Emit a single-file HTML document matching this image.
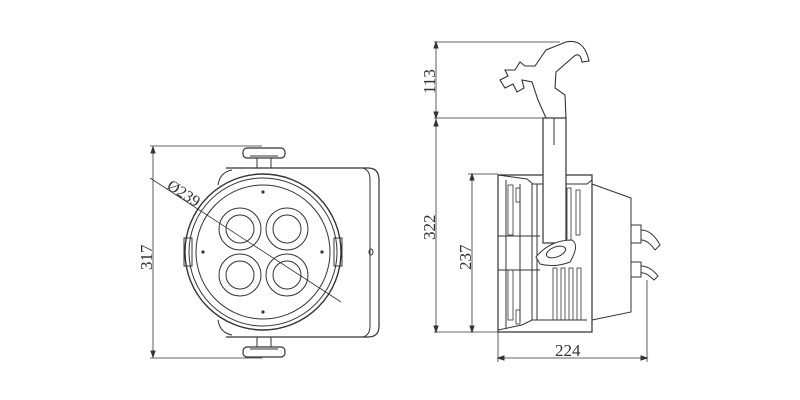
<!DOCTYPE html>
<html><head><style>body{margin:0;background:#fff}svg{display:block}</style></head><body>
<svg width="800" height="400" viewBox="0 0 800 400" xmlns="http://www.w3.org/2000/svg" font-family="Liberation Serif, serif" fill="none" stroke="#333" stroke-width="1">
<!-- LEFT VIEW -->
<line x1="150" y1="146" x2="262" y2="146" stroke-width="0.8"/>
<line x1="150" y1="358" x2="262" y2="358" stroke-width="0.8"/>
<line x1="153" y1="147" x2="153" y2="357" stroke-width="0.8"/>
<polygon points="153,147 151,153 155,153" fill="#333"/>
<polygon points="153,357 151,351 155,351" fill="#333"/>
<text x="0" y="0" transform="translate(152,270) rotate(-90)" font-size="17" fill="#333" stroke="none">317</text>
<!-- bracket -->
<path d="M226,168 L368,168 Q379,168 379,180 L379,326 Q379,337 368,337 L226,337" stroke-width="1.2"/>
<path d="M363,168 Q370,170 370,180 L370,326 Q370,335 363,337"/>
<ellipse cx="371" cy="252" rx="2" ry="3"/>
<path d="M218,185 Q220,172 232,170"/><path d="M218,320 Q220,333 232,335"/>
<!-- knobs -->
<rect x="243" y="148" width="42" height="10" rx="4" stroke-width="1.2"/>
<line x1="250" y1="156" x2="278" y2="156"/>
<rect x="257" y="158" width="14" height="10"/>
<rect x="243" y="347" width="42" height="10" rx="4" stroke-width="1.2"/>
<line x1="250" y1="349" x2="278" y2="349"/>
<rect x="257" y="337" width="14" height="10"/>
<!-- circle -->
<circle cx="263" cy="252" r="78" fill="#fff" stroke-width="1.4"/>
<circle cx="263" cy="252" r="74"/>
<circle cx="263" cy="252" r="67"/>
<rect x="184" y="238" width="8" height="28"/><rect x="334" y="238" width="8" height="28"/>
<g fill="#333" stroke="none"><circle cx="263" cy="192" r="1.6"/><circle cx="263" cy="312" r="1.6"/><circle cx="203" cy="252" r="1.6"/><circle cx="322" cy="252" r="1.6"/></g>
<circle cx="240" cy="229" r="21"/><circle cx="240" cy="229" r="14"/>
<circle cx="287" cy="229" r="21"/><circle cx="287" cy="229" r="14"/>
<circle cx="240" cy="275" r="21"/><circle cx="240" cy="275" r="14"/>
<circle cx="287" cy="275" r="21"/><circle cx="287" cy="275" r="14"/>
<line x1="150" y1="178" x2="341" y2="302" stroke-width="0.8"/>
<text transform="translate(166,188) rotate(33)" font-size="16" fill="#333" stroke="none">Ø239</text>
<!-- RIGHT VIEW -->
<line x1="434" y1="42" x2="560" y2="42" stroke-width="0.8"/>
<line x1="434" y1="118" x2="550" y2="118" stroke-width="0.8"/>
<line x1="434" y1="332" x2="500" y2="332" stroke-width="0.8"/>
<line x1="436" y1="42" x2="436" y2="332" stroke-width="0.8"/>
<polygon points="436,42 434,48 438,48" fill="#333"/><polygon points="436,118 434,112 438,112" fill="#333"/>
<polygon points="436,120 434,126 438,126" fill="#333"/><polygon points="436,332 434,326 438,326" fill="#333"/>
<text transform="translate(435,94) rotate(-90)" font-size="17" fill="#333" stroke="none">113</text>
<text transform="translate(435,240) rotate(-90)" font-size="17" fill="#333" stroke="none">322</text>
<line x1="468" y1="174" x2="498" y2="174" stroke-width="0.8"/>
<line x1="472" y1="174" x2="472" y2="332" stroke-width="0.8"/>
<polygon points="472,174 470,180 474,180" fill="#333"/><polygon points="472,332 470,326 474,326" fill="#333"/>
<text transform="translate(471,270) rotate(-90)" font-size="17" fill="#333" stroke="none">237</text>
<line x1="498" y1="332" x2="498" y2="362" stroke-width="0.8"/>
<line x1="647" y1="280" x2="647" y2="362" stroke-width="0.8"/>
<line x1="498" y1="358" x2="647" y2="358" stroke-width="0.8"/>
<polygon points="498,358 504,356 504,360" fill="#333"/><polygon points="647,358 641,356 641,360" fill="#333"/>
<text x="555" y="356" font-size="17" fill="#333" stroke="none">224</text>
<!-- body -->
<path d="M498,175 L498,332 L592,332 L592,175 Z" stroke-width="1.2"/>
<path d="M592,184 L631,198 L631,312 L592,320"/>
<path d="M498,175 L527,179 L533,184 L587,184 L592,180"/>
<path d="M498,330 L522,325 L532,320 L587,320"/>
<line x1="506" y1="180" x2="506" y2="328"/>
<line x1="520" y1="184" x2="520" y2="322"/>
<line x1="532" y1="184" x2="532" y2="320"/>
<line x1="537" y1="184" x2="537" y2="320"/>
<g stroke-width="0.8">
<rect x="508" y="185" width="5" height="50"/><rect x="508" y="270" width="5" height="50"/>
<rect x="516" y="188" width="4" height="14"/><rect x="516" y="310" width="4" height="14"/>
<rect x="567" y="188" width="4" height="60"/><rect x="576" y="190" width="4" height="45"/>
<rect x="553" y="268" width="4" height="52"/><rect x="561" y="268" width="4" height="52"/><rect x="569" y="268" width="4" height="52"/><rect x="577" y="268" width="4" height="52"/>
</g>
<line x1="498" y1="236" x2="540" y2="236"/><line x1="498" y1="270" x2="540" y2="270"/>
<!-- post -->
<rect x="543" y="118" width="23" height="125" fill="#fff" stroke-width="1.2"/>
<line x1="554" y1="118" x2="554" y2="145"/>
<path d="M536,257 Q550,240 572,240 Q580,245 570,262 Q555,268 540,264 Z" fill="#fff"/>
<ellipse cx="556" cy="252" rx="10" ry="5" transform="rotate(-20 556 252)"/>
<!-- clamp -->
<path d="M546,118 L566,118 L565,95 L555,88 L556,72 L572,58 Q580,50 582,62 L589,61 Q584,38 566,42 L546,50 L535,66 L525,66 L520,62 L515,70 L505,70 L508,76 L500,80 L505,88 L513,84 L517,92 L524,88 L522,80 L532,82 L538,100 Z" stroke-width="1.1"/>
<!-- connectors -->
<rect x="631" y="225" width="10" height="18"/><path d="M641,230 Q652,230 660,245 L655,250 Q648,240 641,240"/>
<rect x="631" y="262" width="10" height="15"/><path d="M641,266 Q650,266 658,276 L654,280 Q646,272 641,273"/>
</svg>
</body></html>
